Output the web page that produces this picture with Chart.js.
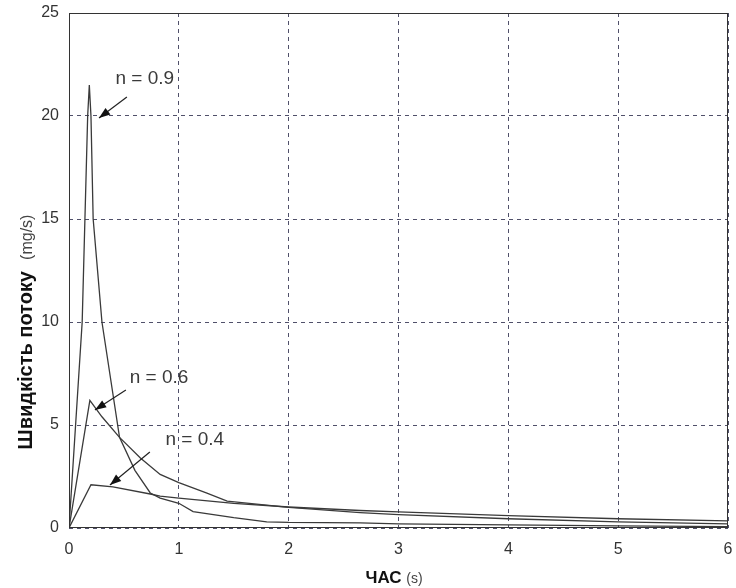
<!DOCTYPE html>
<html>
<head>
<meta charset="utf-8">
<script src="https://cdn.jsdelivr.net/npm/chart.js@4"></script>
<style>
  html, body { margin: 0; padding: 0; background: #fff; }
  #wrap { width: 736px; height: 588px; }
</style>
</head>
<body>
<div id="wrap"><canvas id="flowChart" width="736" height="588"></canvas></div>
<script>
// curve n = 0.9
const n09X = [0, 0.12, 0.145, 0.17, 0.185, 0.2, 0.22, 0.3, 0.46, 0.6, 0.74, 0.83, 1.0, 1.13, 1.5, 1.8, 2.0, 2.65, 3.0, 4.0, 5.0, 6.0];
const n09Y = [0, 10, 15, 20, 21.5, 20, 15, 10, 4.4, 2.8, 1.7, 1.45, 1.2, 0.8, 0.5, 0.3, 0.27, 0.25, 0.2, 0.15, 0.1, 0.07];
// curve n = 0.6
const n06X = [0, 0.19, 0.3, 0.46, 0.65, 0.83, 1.0, 1.25, 1.44, 2.0, 2.65, 3.0, 4.0, 5.0, 6.0];
const n06Y = [0, 6.2, 5.4, 4.4, 3.4, 2.6, 2.2, 1.7, 1.3, 1.0, 0.75, 0.65, 0.45, 0.3, 0.2];
// curve n = 0.4
const n04X = [0, 0.2, 0.4, 0.74, 0.83, 1.0, 1.5, 2.0, 2.65, 3.0, 4.0, 5.0, 6.0];
const n04Y = [0, 2.1, 2.0, 1.65, 1.55, 1.45, 1.2, 1.02, 0.85, 0.78, 0.6, 0.45, 0.35];

const xTicks = [0, 1, 2, 3, 4, 5, 6];
const yTicks = [0, 5, 10, 15, 20, 25];

// labels with arrows: text position, arrow start, arrow end (data units)
const noteText = ['n = 0.9', 'n = 0.6', 'n = 0.4'];
const noteAt = [[0.69, 21.8], [0.82, 7.3], [1.145, 4.3]];
const arrowFrom = [[0.527, 20.92], [0.518, 6.7], [0.736, 3.69]];
const arrowTo = [[0.273, 19.9], [0.236, 5.73], [0.373, 2.09]];

function pts(xs, ys) {
    return xs.map((x, i) => ({ x: x, y: ys[i] }));
}

const FONT = '"Liberation Sans", Arial, sans-serif';
const lineStyle = { borderColor: '#3a3a3a', borderWidth: 1.3, pointRadius: 0, showLine: true, fill: false, tension: 0 };

const notesPlugin = {
    id: 'notes',
    afterDatasetsDraw(chart) {
        const ctx = chart.ctx;
        const xs = chart.scales.x, ys = chart.scales.y;
        const area = chart.chartArea;
        ctx.save();
        // plot frame
        ctx.strokeStyle = '#333';
        ctx.lineWidth = 1;
        ctx.strokeRect(area.left + 0.5, area.top + 0.5, area.right - area.left - 1, area.bottom - area.top - 1);

        ctx.font = '19px ' + FONT;
        ctx.fillStyle = '#3a3a3a';
        ctx.textAlign = 'center';
        ctx.textBaseline = 'middle';
        noteText.forEach((t, i) => {
            ctx.fillText(t, xs.getPixelForValue(noteAt[i][0]), ys.getPixelForValue(noteAt[i][1]));
            const x1 = xs.getPixelForValue(arrowFrom[i][0]), y1 = ys.getPixelForValue(arrowFrom[i][1]);
            const x2 = xs.getPixelForValue(arrowTo[i][0]), y2 = ys.getPixelForValue(arrowTo[i][1]);
            const a = Math.atan2(y2 - y1, x2 - x1);
            ctx.strokeStyle = '#222';
            ctx.lineWidth = 1.2;
            ctx.beginPath();
            ctx.moveTo(x1, y1);
            ctx.lineTo(x2, y2);
            ctx.stroke();
            ctx.fillStyle = '#111';
            ctx.beginPath();
            ctx.moveTo(x2, y2);
            ctx.lineTo(x2 - 12 * Math.cos(a - 0.35), y2 - 12 * Math.sin(a - 0.35));
            ctx.lineTo(x2 - 12 * Math.cos(a + 0.35), y2 - 12 * Math.sin(a + 0.35));
            ctx.closePath();
            ctx.fill();
            ctx.fillStyle = '#3a3a3a';
        });

        // axis titles (bold word + plain unit)
        ctx.textAlign = 'left';
        ctx.textBaseline = 'alphabetic';
        const boldX = 'bold 17px ' + FONT;
        const boldY = 'bold 20px ' + FONT;
        const thinX = '14px ' + FONT;
        const thinY = '16px ' + FONT;

        ctx.font = boldX;
        const xw1 = ctx.measureText('ЧАС ').width;
        ctx.font = thinX;
        const xw2 = ctx.measureText('(s)').width;
        let sx = 394 - (xw1 + xw2) / 2;
        ctx.font = boldX;
        ctx.fillStyle = '#111';
        ctx.fillText('ЧАС ', sx, 583);
        ctx.font = thinX;
        ctx.fillStyle = '#444';
        ctx.fillText('(s)', sx + xw1, 583);

        ctx.translate(32, 332);
        ctx.rotate(-Math.PI / 2);
        ctx.font = boldY;
        ctx.fillStyle = '#111';
        const yw1 = ctx.measureText('Швидкість потоку  ').width;
        ctx.font = thinY;
        const yw2 = ctx.measureText('(mg/s)').width;
        sx = -(yw1 + yw2) / 2;
        ctx.font = boldY;
        ctx.fillText('Швидкість потоку  ', sx, 0);
        ctx.font = thinY;
        ctx.fillStyle = '#444';
        ctx.fillText('(mg/s)', sx + yw1, 0);
        ctx.restore();
    }
};

new Chart(document.getElementById('flowChart'), {
    type: 'scatter',
    data: {
        datasets: [
            Object.assign({ label: 'n = 0.9', data: pts(n09X, n09Y) }, lineStyle),
            Object.assign({ label: 'n = 0.6', data: pts(n06X, n06Y) }, lineStyle),
            Object.assign({ label: 'n = 0.4', data: pts(n04X, n04Y) }, lineStyle)
        ]
    },
    options: {
        responsive: false,
        animation: false,
        layout: { padding: { left: 0, top: 13, right: 8, bottom: 0 } },
        plugins: { legend: { display: false }, tooltip: { enabled: false } },
        scales: {
            x: {
                type: 'linear', min: 0, max: 6,
                afterFit(s) { s.height = 60; s.paddingLeft = 0; s.paddingRight = 0; },
                afterBuildTicks(s) { s.ticks = xTicks.map(v => ({ value: v })); },
                grid: { color: '#50506a', lineWidth: 1, drawTicks: false },
                border: { display: false, dash: [4, 4] },
                ticks: { color: '#333', padding: 12, font: { family: FONT, size: 16 } }
            },
            y: {
                type: 'linear', min: 0, max: 25,
                afterFit(s) { s.width = 69; s.paddingTop = 0; s.paddingBottom = 0; },
                afterBuildTicks(s) { s.ticks = yTicks.map(v => ({ value: v })); },
                grid: { color: '#50506a', lineWidth: 1, drawTicks: false },
                border: { display: false, dash: [4, 4] },
                ticks: { color: '#333', padding: 10, font: { family: FONT, size: 16 } }
            }
        }
    },
    plugins: [notesPlugin]
});
</script>
</body>
</html>
